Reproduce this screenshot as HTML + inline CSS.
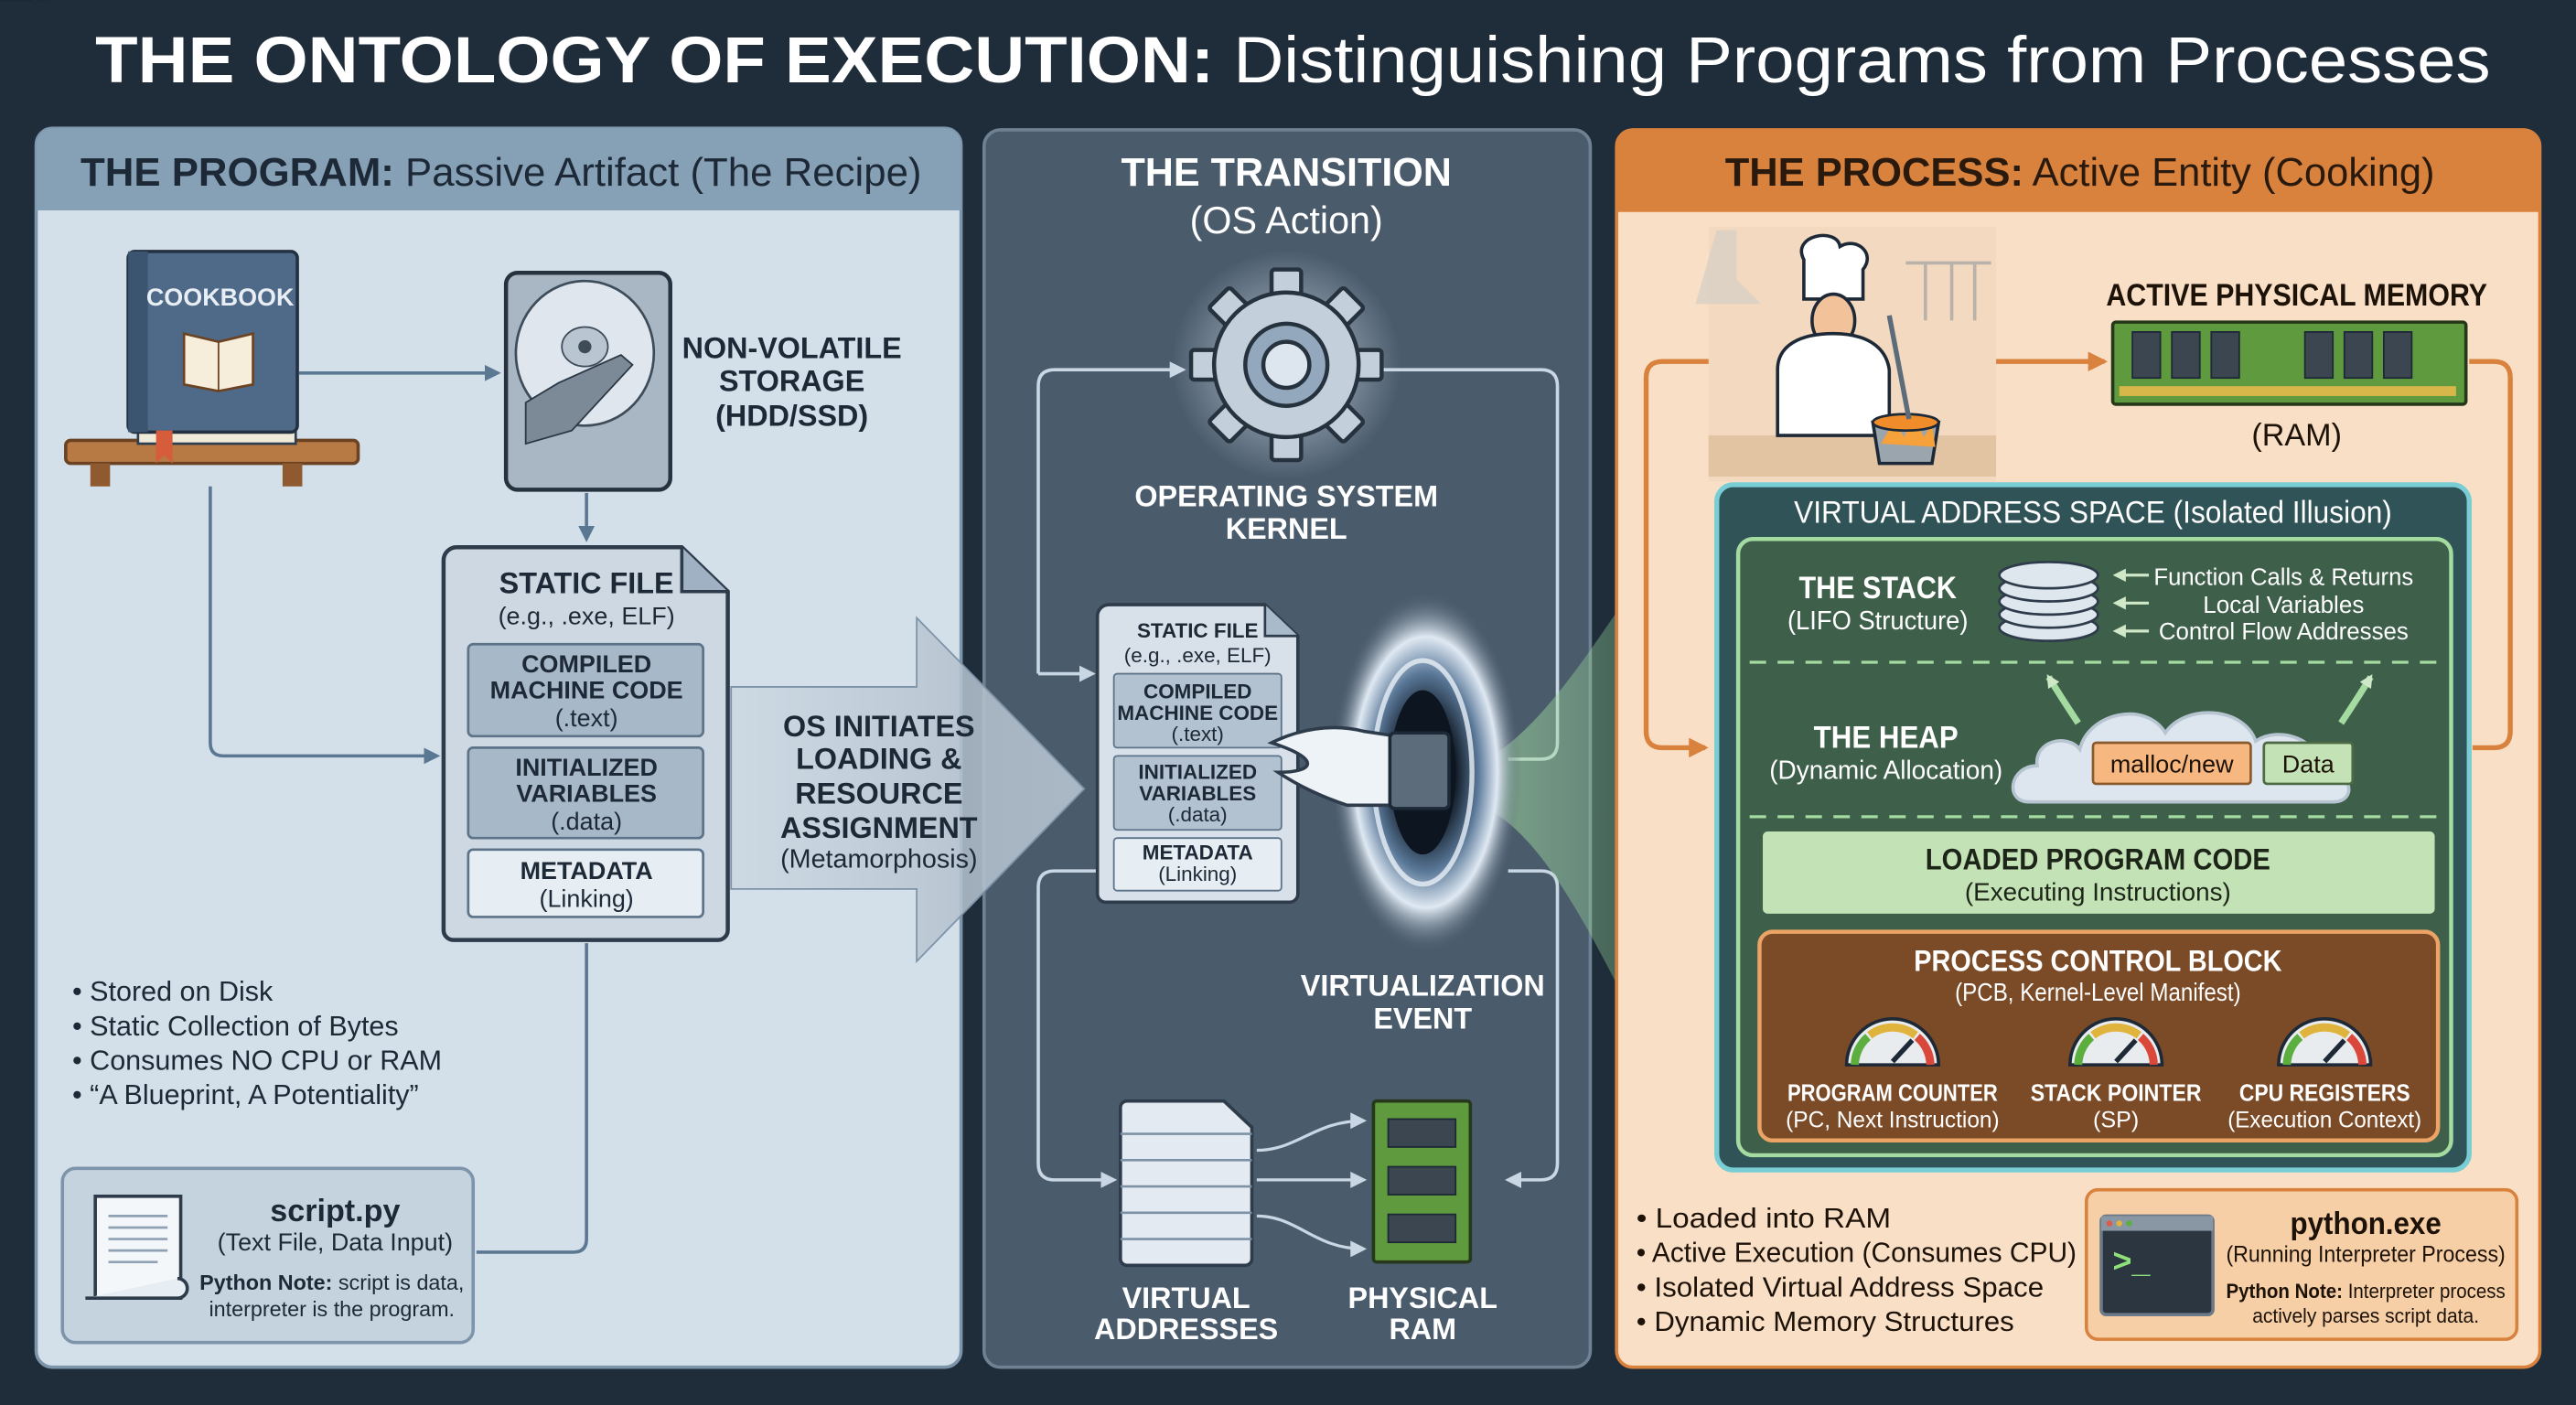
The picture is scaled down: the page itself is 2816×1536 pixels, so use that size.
<!DOCTYPE html>
<html><head><meta charset="utf-8"><style>
html,body{margin:0;padding:0;background:#1f2d3b;}
svg{display:block}
text{font-family:"Liberation Sans",sans-serif;}
</style></head><body>
<svg width="2816" height="1536" viewBox="0 0 1568 855" preserveAspectRatio="none" xmlns="http://www.w3.org/2000/svg">
<defs>
<marker id="ab" markerWidth="10" markerHeight="10" refX="8" refY="5" orient="auto" markerUnits="userSpaceOnUse"><path d="M0,0 L10,5 L0,10 z" fill="#5b7893"/></marker>
<marker id="aw" markerWidth="10" markerHeight="10" refX="8" refY="5" orient="auto" markerUnits="userSpaceOnUse"><path d="M0,0 L10,5 L0,10 z" fill="#c9d7e4"/></marker>
<marker id="ao" markerWidth="12" markerHeight="12" refX="10" refY="6" orient="auto" markerUnits="userSpaceOnUse"><path d="M0,0 L12,6 L0,12 z" fill="#d9823e"/></marker>
<marker id="ag" markerWidth="8" markerHeight="8" refX="6" refY="4" orient="auto" markerUnits="userSpaceOnUse"><path d="M0,0 L8,4 L0,8 z" fill="#cfe8c8"/></marker>
<radialGradient id="portal" cx="0.5" cy="0.5" r="0.5"><stop offset="0.3" stop-color="#0d1620"/><stop offset="0.55" stop-color="#5a7898"/><stop offset="0.75" stop-color="#dfe9f3"/><stop offset="1" stop-color="#4a5c6e" stop-opacity="0"/></radialGradient>
<radialGradient id="glow" cx="0.5" cy="0.5" r="0.5"><stop offset="0" stop-color="#e8f4ff" stop-opacity="0.7"/><stop offset="1" stop-color="#e8f4ff" stop-opacity="0"/></radialGradient>
<linearGradient id="cone" x1="0" x2="1"><stop offset="0" stop-color="#a8e0a0" stop-opacity="0.55"/><stop offset="1" stop-color="#7fc08a" stop-opacity="0.2"/></linearGradient>
<linearGradient id="bigArrow" x1="0" x2="1"><stop offset="0" stop-color="#c8d4de" stop-opacity="0.6"/><stop offset="1" stop-color="#aab8c6"/></linearGradient>
</defs>
<rect width="1568" height="855" fill="#1f2d3b"/>
<text x="787" y="50" text-anchor="middle" font-size="40" fill="#fff" textLength="1458" lengthAdjust="spacingAndGlyphs"><tspan font-weight="bold">THE ONTOLOGY OF EXECUTION:</tspan> Distinguishing Programs from Processes</text>

<!-- LEFT PANEL -->
<rect x="22" y="78" width="563" height="754" rx="10" fill="#d3dfe9" stroke="#7d95ab" stroke-width="2"/>
<path d="M22,128 V88 a10,10 0 0 1 10,-10 H575 a10,10 0 0 1 10,10 V128 z" fill="#86a0b6"/>
<text x="305" y="113" text-anchor="middle" font-size="24" fill="#1d2936" textLength="512" lengthAdjust="spacingAndGlyphs"><tspan font-weight="bold">THE PROGRAM:</tspan> Passive Artifact (The Recipe)</text>

<rect x="40" y="268" width="178" height="14" rx="3" fill="#b77a45" stroke="#6b4322" stroke-width="2"/>
<rect x="55" y="282" width="12" height="14" fill="#8f5a2f"/><rect x="172" y="282" width="12" height="14" fill="#8f5a2f"/>
<rect x="84" y="258" width="96" height="12" fill="#f0ead8" stroke="#2e3e50" stroke-width="1.5"/>
<rect x="78" y="153" width="103" height="110" rx="4" fill="#4e6a88" stroke="#22303f" stroke-width="2"/>
<rect x="78" y="153" width="12" height="110" fill="#3b5470"/>
<text x="134" y="186" text-anchor="middle" font-size="15" fill="#e8eef4" font-weight="bold">COOKBOOK</text>
<path d="M112,203 L133,208 L154,203 V234 L133,238 L112,234 z" fill="#f6eedb" stroke="#6b4322" stroke-width="1.5"/><line x1="133" y1="208" x2="133" y2="238" stroke="#6b4322"/>
<path d="M95,262 h10 v20 l-5,-5 l-5,5 z" fill="#d65c3c"/>
<rect x="308" y="166" width="100" height="132" rx="7" fill="#a9b6c3" stroke="#26323e" stroke-width="2.5"/>
<ellipse cx="356" cy="215" rx="42" ry="44" fill="#dfe6ee" stroke="#3e4c5a" stroke-width="1.5"/>
<ellipse cx="356" cy="211" rx="14" ry="12" fill="#b9c5d1" stroke="#3e4c5a"/><circle cx="356" cy="211" r="4" fill="#3e4c5a"/>
<path d="M320,245 L340,233 L378,216 L385,222 L348,262 L320,270 z" fill="#7c8a98" stroke="#2b3744"/>
<g font-size="18" font-weight="bold" fill="#1d2936" text-anchor="middle"><text x="482" y="218">NON-VOLATILE</text><text x="482" y="238">STORAGE</text><text x="482" y="259">(HDD/SSD)</text></g>
<line x1="182" y1="227" x2="303" y2="227" stroke="#5b7893" stroke-width="2" marker-end="url(#ab)"/>
<line x1="357" y1="300" x2="357" y2="328" stroke="#5b7893" stroke-width="2" marker-end="url(#ab)"/>
<path d="M128,296 V452 q0,8 8,8 H266" fill="none" stroke="#5b7893" stroke-width="2" marker-end="url(#ab)"/>
<path d="M357,574 V754 q0,8 -8,8 H290" fill="none" stroke="#5b7893" stroke-width="2"/>
<path d="M278,333 H415 L443,360 V566 a6,6 0 0 1 -6,6 H276 a6,6 0 0 1 -6,-6 V341 a8,8 0 0 1 8,-8 z" fill="#cdd8e2" stroke="#2d3b4a" stroke-width="2.5"/>
<path d="M415,333 V360 H443" fill="#9fb1c2" stroke="#2d3b4a" stroke-width="2"/>
<text x="357" y="361" text-anchor="middle" font-size="18" font-weight="bold" fill="#1d2936">STATIC FILE</text>
<text x="357" y="380" text-anchor="middle" font-size="15" fill="#1d2936">(e.g., .exe, ELF)</text>
<rect x="285" y="392" width="143" height="56" rx="3" fill="#a7b8c8" stroke="#5d7389" stroke-width="1.5"/>
<rect x="285" y="455" width="143" height="55" rx="3" fill="#a7b8c8" stroke="#5d7389" stroke-width="1.5"/>
<rect x="285" y="517" width="143" height="41" rx="3" fill="#e6edf3" stroke="#5d7389" stroke-width="1.5"/>
<g text-anchor="middle" fill="#1d2936" font-size="15"><text x="357" y="409" font-weight="bold">COMPILED</text><text x="357" y="425" font-weight="bold">MACHINE CODE</text><text x="357" y="442">(.text)</text>
<text x="357" y="472" font-weight="bold">INITIALIZED</text><text x="357" y="488" font-weight="bold">VARIABLES</text><text x="357" y="505">(.data)</text>
<text x="357" y="535" font-weight="bold">METADATA</text><text x="357" y="552">(Linking)</text></g>
<g font-size="17" fill="#1d2936"><text x="44" y="609">• Stored on Disk</text><text x="44" y="630">• Static Collection of Bytes</text><text x="44" y="651">• Consumes NO CPU or RAM</text><text x="44" y="672">• “A Blueprint, A Potentiality”</text></g>
<rect x="38" y="711" width="250" height="106" rx="8" fill="#c5d3df" stroke="#7d95ab" stroke-width="2"/>
<path d="M58,728 H110 V790 H58 z" fill="#f4f7fa" stroke="#2d3b4a" stroke-width="2"/>
<path d="M52,790 H108 a6,6 0 0 0 0,-12" fill="#e6edf3" stroke="#2d3b4a" stroke-width="2"/>
<g stroke="#8ea2b4" stroke-width="1.5"><line x1="66" y1="740" x2="102" y2="740"/><line x1="66" y1="747" x2="102" y2="747"/><line x1="66" y1="754" x2="102" y2="754"/><line x1="66" y1="761" x2="102" y2="761"/><line x1="66" y1="768" x2="96" y2="768"/></g>
<text x="204" y="743" text-anchor="middle" font-size="19" font-weight="bold" fill="#1d2936">script.py</text>
<text x="204" y="761" text-anchor="middle" font-size="15" fill="#1d2936">(Text File, Data Input)</text>
<text x="202" y="785" text-anchor="middle" font-size="13" fill="#1d2936"><tspan font-weight="bold">Python Note:</tspan> script is data,</text>
<text x="202" y="801" text-anchor="middle" font-size="13" fill="#1d2936">interpreter is the program.</text>

<!-- MIDDLE PANEL -->
<rect x="599" y="79" width="369" height="753" rx="10" fill="#4a5b6c" stroke="#6f8294" stroke-width="2"/>
<text x="783" y="113" text-anchor="middle" font-size="24" font-weight="bold" fill="#fff">THE TRANSITION</text>
<text x="783" y="142" text-anchor="middle" font-size="23" fill="#fff">(OS Action)</text>
<path d="M445,418 H558 V376 L660,480 L558,585 V541 H445 z" fill="url(#bigArrow)" stroke="#7d93a8" stroke-width="1"/>
<g text-anchor="middle" fill="#1d2936"><text x="535" y="448" font-size="18" font-weight="bold">OS INITIATES</text><text x="535" y="468" font-size="18" font-weight="bold">LOADING &amp;</text><text x="535" y="489" font-size="18" font-weight="bold">RESOURCE</text><text x="535" y="510" font-size="18" font-weight="bold">ASSIGNMENT</text><text x="535" y="528" font-size="16">(Metamorphosis)</text></g>
<path d="M632,410 V235 q0,-10 10,-10 H720" fill="none" stroke="#c9d7e4" stroke-width="2" marker-end="url(#aw)"/>
<line x1="632" y1="410" x2="665" y2="410" stroke="#c9d7e4" stroke-width="2" marker-end="url(#aw)"/>
<path d="M840,225 H938 q10,0 10,10 V452 q0,10 -10,10 H918" fill="none" stroke="#c9d7e4" stroke-width="2"/>
<path d="M680,530 H642 q-10,0 -10,10 V708 q0,10 10,10 H678" fill="none" stroke="#c9d7e4" stroke-width="2" marker-end="url(#aw)"/>
<path d="M918,530 H938 q10,0 10,10 V708 q0,10 -10,10 H918" fill="none" stroke="#c9d7e4" stroke-width="2" marker-end="url(#aw)"/>
<circle cx="783" cy="222" r="70" fill="url(#glow)"/>
<g transform="translate(783,222)" fill="#c3cfdb" stroke="#26323e" stroke-width="2.5">
<g><rect x="-9" y="-58" width="18" height="20" rx="2"/><rect x="-9" y="38" width="18" height="20" rx="2"/><rect x="-58" y="-9" width="20" height="18" rx="2"/><rect x="38" y="-9" width="20" height="18" rx="2"/></g>
<g transform="rotate(45)"><rect x="-9" y="-58" width="18" height="20" rx="2"/><rect x="-9" y="38" width="18" height="20" rx="2"/><rect x="-58" y="-9" width="20" height="18" rx="2"/><rect x="38" y="-9" width="20" height="18" rx="2"/></g>
<circle r="44"/><circle r="25" fill="#93a8bc"/><circle r="14" fill="#dde6ee"/></g>
<text x="783" y="308" text-anchor="middle" font-size="18" font-weight="bold" fill="#fff">OPERATING SYSTEM</text>
<text x="783" y="328" text-anchor="middle" font-size="18" font-weight="bold" fill="#fff">KERNEL</text>
<path d="M905,462 C960,430 1000,330 1045,300 V706 C1000,650 960,520 905,492 z" fill="url(#cone)"/>
<ellipse cx="868" cy="470" rx="58" ry="110" fill="url(#portal)"/>
<ellipse cx="866" cy="470" rx="30" ry="68" fill="none" stroke="#e8f0f8" stroke-width="3" opacity="0.8"/>
<ellipse cx="866" cy="470" rx="20" ry="50" fill="#0d1620"/>
<path d="M675,368 H770 L790,387 V544 a5,5 0 0 1 -5,5 H673 a5,5 0 0 1 -5,-5 V375 a7,7 0 0 1 7,-7 z" fill="#d8e1ea" stroke="#2d3b4a" stroke-width="2"/>
<path d="M770,368 V387 H790" fill="#a9bacb" stroke="#2d3b4a" stroke-width="1.5"/>
<g text-anchor="middle" fill="#1d2936" font-size="12.5"><text x="729" y="388" font-weight="bold">STATIC FILE</text><text x="729" y="403">(e.g., .exe, ELF)</text>
<rect x="678" y="410" width="102" height="45" rx="2" fill="#b3c2d0" stroke="#5d7389"/>
<rect x="678" y="460" width="102" height="45" rx="2" fill="#b3c2d0" stroke="#5d7389"/>
<rect x="678" y="510" width="102" height="32" rx="2" fill="#e6edf3" stroke="#5d7389"/>
<text x="729" y="425" font-weight="bold">COMPILED</text><text x="729" y="438" font-weight="bold">MACHINE CODE</text><text x="729" y="451">(.text)</text>
<text x="729" y="474" font-weight="bold">INITIALIZED</text><text x="729" y="487" font-weight="bold">VARIABLES</text><text x="729" y="500">(.data)</text>
<text x="729" y="523" font-weight="bold">METADATA</text><text x="729" y="536">(Linking)</text></g>
<path d="M774,452 C790,444 810,440 830,445 L850,448 V490 L820,490 C805,485 790,478 778,470 C800,470 805,462 774,452 z" fill="#eef3f8" stroke="#2d3b4a" stroke-width="2"/>
<rect x="846" y="446" width="36" height="46" rx="3" fill="#5d6c7b" stroke="#1d2936" stroke-width="2"/>
<text x="866" y="606" text-anchor="middle" font-size="18" font-weight="bold" fill="#fff">VIRTUALIZATION</text>
<text x="866" y="626" text-anchor="middle" font-size="18" font-weight="bold" fill="#fff">EVENT</text>
<path d="M686,670 H745 L762,686 V766 a4,4 0 0 1 -4,4 H686 a4,4 0 0 1 -4,-4 V674 a4,4 0 0 1 4,-4 z" fill="#e3eaf1" stroke="#2d3b4a" stroke-width="2"/>
<g stroke="#7e92a6" stroke-width="1.5"><line x1="682" y1="690" x2="762" y2="690"/><line x1="682" y1="706" x2="762" y2="706"/><line x1="682" y1="722" x2="762" y2="722"/><line x1="682" y1="738" x2="762" y2="738"/><line x1="682" y1="754" x2="762" y2="754"/></g>
<g fill="none" stroke="#c9d7e4" stroke-width="1.8"><path d="M765,700 C790,700 800,682 830,682" marker-end="url(#aw)"/><path d="M765,718 H830" marker-end="url(#aw)"/><path d="M765,740 C790,740 800,760 830,760" marker-end="url(#aw)"/></g>
<rect x="836" y="670" width="59" height="98" rx="2" fill="#5f9a3e" stroke="#25391a" stroke-width="2"/>
<rect x="845" y="681" width="41" height="17" fill="#3b4650" stroke="#1d2936"/><rect x="845" y="710" width="41" height="17" fill="#3b4650" stroke="#1d2936"/><rect x="845" y="739" width="41" height="17" fill="#3b4650" stroke="#1d2936"/>
<g text-anchor="middle" font-size="18" font-weight="bold" fill="#fff"><text x="722" y="796">VIRTUAL</text><text x="722" y="815">ADDRESSES</text><text x="866" y="796">PHYSICAL</text><text x="866" y="815">RAM</text></g>

<!-- RIGHT PANEL -->
<rect x="984" y="79" width="562" height="753" rx="10" fill="#f9dfc6" stroke="#d9823e" stroke-width="2"/>
<path d="M984,129 V89 a10,10 0 0 1 10,-10 H1536 a10,10 0 0 1 10,10 V129 z" fill="#d9823e"/>
<text x="1266" y="113" text-anchor="middle" font-size="24" fill="#2a1a0e" textLength="432" lengthAdjust="spacingAndGlyphs"><tspan font-weight="bold">THE PROCESS:</tspan> Active Entity (Cooking)</text>
<rect x="1040" y="138" width="175" height="155" fill="#f3d9c0"/>
<path d="M1045,140 h12 v30 l15,15 h-40 z" fill="#d8cfc4" opacity="0.8"/>
<g stroke="#b9b2aa" stroke-width="2"><line x1="1160" y1="160" x2="1212" y2="160"/><line x1="1172" y1="160" x2="1172" y2="195"/><line x1="1188" y1="160" x2="1188" y2="195"/><line x1="1202" y1="160" x2="1202" y2="195"/></g>
<rect x="1040" y="265" width="175" height="25" fill="#e2c3a2"/>
<path d="M1098,158 c-8,-15 20,-20 22,-8 c10,-6 22,4 14,14 v18 h-36 z" fill="#fff" stroke="#1d2936" stroke-width="2"/>
<ellipse cx="1116" cy="195" rx="13" ry="16" fill="#f2c29a" stroke="#1d2936" stroke-width="2"/>
<path d="M1082,265 V225 c0,-15 14,-22 34,-22 c20,0 32,8 34,22 V265 z" fill="#fff" stroke="#1d2936" stroke-width="2"/>
<path d="M1140,257 h40 l-4,25 h-32 z" fill="#9ba5ae" stroke="#1d2936" stroke-width="2"/>
<path d="M1145,270 l8,-14 l6,10 l6,-14 l6,14 l5,-8 l2,14 z" fill="#f7a13a"/>
<ellipse cx="1160" cy="257" rx="20" ry="5" fill="#f08d2a" stroke="#1d2936" stroke-width="1.5"/>
<line x1="1150" y1="192" x2="1162" y2="255" stroke="#5d6c7b" stroke-width="3"/>
<text x="1398" y="186" text-anchor="middle" font-size="19" font-weight="bold" fill="#1d1208" textLength="232" lengthAdjust="spacingAndGlyphs">ACTIVE PHYSICAL MEMORY</text>
<rect x="1286" y="196" width="215" height="50" rx="2" fill="#5f9a3e" stroke="#25391a" stroke-width="2"/>
<g fill="#3b4650" stroke="#1d2936"><rect x="1298" y="202" width="17" height="28"/><rect x="1322" y="202" width="17" height="28"/><rect x="1346" y="202" width="17" height="28"/><rect x="1403" y="202" width="17" height="28"/><rect x="1427" y="202" width="17" height="28"/><rect x="1451" y="202" width="17" height="28"/></g>
<rect x="1290" y="235" width="205" height="6" fill="#d7b64a"/>
<text x="1398" y="271" text-anchor="middle" font-size="19" fill="#1d1208">(RAM)</text>
<line x1="1215" y1="220" x2="1281" y2="220" stroke="#d9823e" stroke-width="3" marker-end="url(#ao)"/>
<path d="M1040,220 H1012 q-10,0 -10,10 V445 q0,10 10,10 H1038" fill="none" stroke="#d9823e" stroke-width="3" marker-end="url(#ao)"/>
<path d="M1503,220 H1518 q10,0 10,10 V445 q0,10 -10,10 H1505" fill="none" stroke="#d9823e" stroke-width="3"/>
<rect x="1045" y="295" width="458" height="417" rx="10" fill="#2f5357" stroke="#79cdd5" stroke-width="3"/>
<text x="1274" y="318" text-anchor="middle" font-size="19" fill="#fff" textLength="364" lengthAdjust="spacingAndGlyphs">VIRTUAL ADDRESS SPACE (Isolated Illusion)</text>
<rect x="1058" y="328" width="434" height="375" rx="9" fill="#3e5f4a" stroke="#a4dba0" stroke-width="2.5"/>
<text x="1143" y="364" text-anchor="middle" font-size="19" font-weight="bold" fill="#fff" textLength="96" lengthAdjust="spacingAndGlyphs">THE STACK</text>
<text x="1143" y="383" text-anchor="middle" font-size="16" fill="#fff" textLength="110" lengthAdjust="spacingAndGlyphs">(LIFO Structure)</text>
<g fill="#dfe7ee" stroke="#2d3b4a" stroke-width="1.5"><ellipse cx="1247" cy="382" rx="30" ry="8"/><ellipse cx="1247" cy="374" rx="30" ry="8"/><ellipse cx="1247" cy="366" rx="30" ry="8"/><ellipse cx="1247" cy="358" rx="30" ry="8"/><ellipse cx="1247" cy="350" rx="30" ry="8"/></g>
<g stroke="#cfe8c8" stroke-width="1.8"><line x1="1308" y1="350" x2="1288" y2="350" marker-end="url(#ag)"/><line x1="1308" y1="367" x2="1288" y2="367" marker-end="url(#ag)"/><line x1="1308" y1="384" x2="1288" y2="384" marker-end="url(#ag)"/></g>
<g font-size="14.5" fill="#fff" text-anchor="middle"><text x="1390" y="356" textLength="158" lengthAdjust="spacingAndGlyphs">Function Calls &amp; Returns</text><text x="1390" y="373">Local Variables</text><text x="1390" y="389" textLength="152" lengthAdjust="spacingAndGlyphs">Control Flow Addresses</text></g>
<line x1="1065" y1="403" x2="1488" y2="403" stroke="#a4dba0" stroke-width="1.8" stroke-dasharray="10,7"/>
<line x1="1065" y1="497" x2="1488" y2="497" stroke="#a4dba0" stroke-width="1.8" stroke-dasharray="10,7"/>
<text x="1148" y="455" text-anchor="middle" font-size="19" font-weight="bold" fill="#fff" textLength="88" lengthAdjust="spacingAndGlyphs">THE HEAP</text>
<text x="1148" y="474" text-anchor="middle" font-size="16" fill="#fff" textLength="142" lengthAdjust="spacingAndGlyphs">(Dynamic Allocation)</text>
<path d="M1235,488 c-15,0 -12,-22 5,-22 c-2,-15 18,-20 26,-10 c5,-22 40,-30 52,-10 c12,-18 48,-16 55,5 c15,-10 40,0 38,16 c20,0 25,20 10,21 z" fill="#dde6ee" stroke="#b7c5d2" stroke-width="2"/>
<path d="M1265,440 q-10,-15 -18,-28" fill="none" stroke="#a4dba0" stroke-width="4" marker-end="url(#ag)"/>
<path d="M1425,440 q10,-15 18,-28" fill="none" stroke="#a4dba0" stroke-width="4" marker-end="url(#ag)"/>
<rect x="1274" y="452" width="96" height="25" rx="2" fill="#f7b780" stroke="#8a5a2c" stroke-width="1.5"/>
<rect x="1378" y="452" width="54" height="25" rx="2" fill="#c3e2b5" stroke="#4d6a45" stroke-width="1.5"/>
<text x="1322" y="470" text-anchor="middle" font-size="15" fill="#1d1208">malloc/new</text>
<text x="1405" y="470" text-anchor="middle" font-size="15" fill="#1d1208">Data</text>
<rect x="1073" y="506" width="409" height="50" rx="3" fill="#c3e2b5"/>
<text x="1277" y="529" text-anchor="middle" font-size="18" font-weight="bold" fill="#1d2418" textLength="210" lengthAdjust="spacingAndGlyphs">LOADED PROGRAM CODE</text>
<text x="1277" y="548" text-anchor="middle" font-size="15.5" fill="#1d2418" textLength="162" lengthAdjust="spacingAndGlyphs">(Executing Instructions)</text>
<rect x="1071" y="567" width="413" height="127" rx="8" fill="#7b4a26" stroke="#eba466" stroke-width="2.5"/>
<text x="1277" y="591" text-anchor="middle" font-size="18" font-weight="bold" fill="#fff" textLength="224" lengthAdjust="spacingAndGlyphs">PROCESS CONTROL BLOCK</text>
<text x="1277" y="609" text-anchor="middle" font-size="15.5" fill="#fff" textLength="174" lengthAdjust="spacingAndGlyphs">(PCB, Kernel-Level Manifest)</text>
<g id="g1"><path d="M-28,0 a28,28 0 0 1 56,0 z" fill="#e8ecef" stroke="#1d2936" stroke-width="2"/><path d="M-23,0 a23,23 0 0 1 8,-17" fill="none" stroke="#5cae3e" stroke-width="5"/><path d="M-14,-18 a23,23 0 0 1 28,0" fill="none" stroke="#e0b43c" stroke-width="5"/><path d="M15,-17 a23,23 0 0 1 8,17" fill="none" stroke="#d9483a" stroke-width="5"/><line x1="0" y1="-2" x2="12" y2="-15" stroke="#1d2936" stroke-width="3"/></g>
<use href="#g1" transform="translate(1152,648)"/><use href="#g1" transform="translate(1288,648)"/><use href="#g1" transform="translate(1415,648)"/>
<use href="#g1" transform="translate(-10000,0)"/>
<g text-anchor="middle" fill="#fff"><text x="1152" y="670" font-size="14.5" font-weight="bold" textLength="128" lengthAdjust="spacingAndGlyphs">PROGRAM COUNTER</text><text x="1152" y="686" font-size="14" textLength="130" lengthAdjust="spacingAndGlyphs">(PC, Next Instruction)</text>
<text x="1288" y="670" font-size="14.5" font-weight="bold" textLength="104" lengthAdjust="spacingAndGlyphs">STACK POINTER</text><text x="1288" y="686" font-size="14">(SP)</text>
<text x="1415" y="670" font-size="14.5" font-weight="bold" textLength="104" lengthAdjust="spacingAndGlyphs">CPU REGISTERS</text><text x="1415" y="686" font-size="14" textLength="118" lengthAdjust="spacingAndGlyphs">(Execution Context)</text></g>
<g font-size="17" fill="#1d1208"><text x="996" y="747" textLength="155" lengthAdjust="spacingAndGlyphs">• Loaded into RAM</text><text x="996" y="768" textLength="268" lengthAdjust="spacingAndGlyphs">• Active Execution (Consumes CPU)</text><text x="996" y="789" textLength="248" lengthAdjust="spacingAndGlyphs">• Isolated Virtual Address Space</text><text x="996" y="810" textLength="230" lengthAdjust="spacingAndGlyphs">• Dynamic Memory Structures</text></g>
<rect x="1270" y="724" width="262" height="91" rx="7" fill="#f7cfa6" stroke="#d9823e" stroke-width="2"/>
<rect x="1279" y="740" width="68" height="60" rx="3" fill="#2b3640" stroke="#6c7a88" stroke-width="2"/>
<rect x="1279" y="740" width="68" height="9" fill="#8996a3"/>
<circle cx="1284" cy="744.5" r="1.8" fill="#e05a4a"/><circle cx="1290" cy="744.5" r="1.8" fill="#e0b43c"/><circle cx="1296" cy="744.5" r="1.8" fill="#5cae3e"/>
<text x="1286" y="774" font-size="20" font-weight="bold" fill="#8fe07a">&gt;_</text>
<text x="1440" y="751" text-anchor="middle" font-size="19" font-weight="bold" fill="#1d1208" textLength="92" lengthAdjust="spacingAndGlyphs">python.exe</text>
<text x="1440" y="768" text-anchor="middle" font-size="14" fill="#1d1208" textLength="170" lengthAdjust="spacingAndGlyphs">(Running Interpreter Process)</text>
<text x="1440" y="790" text-anchor="middle" font-size="12.5" fill="#1d1208" textLength="170" lengthAdjust="spacingAndGlyphs"><tspan font-weight="bold">Python Note:</tspan> Interpreter process</text>
<text x="1440" y="805" text-anchor="middle" font-size="12.5" fill="#1d1208" textLength="138" lengthAdjust="spacingAndGlyphs">actively parses script data.</text>
</svg>
</body></html>
